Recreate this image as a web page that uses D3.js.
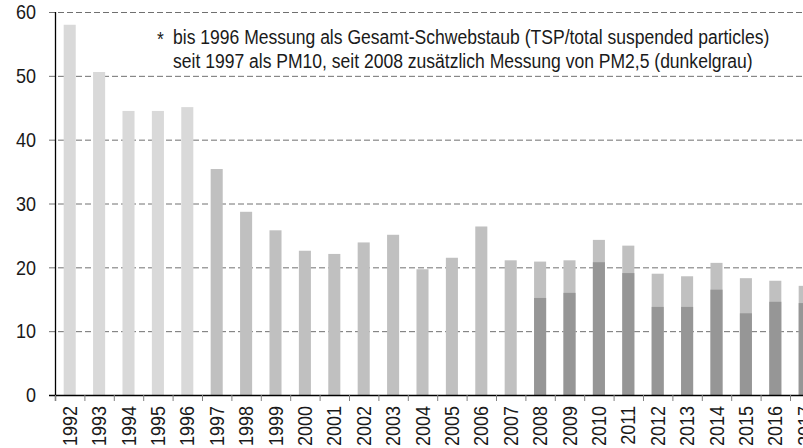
<!DOCTYPE html>
<html>
<head>
<meta charset="utf-8">
<script src="https://cdn.jsdelivr.net/npm/d3@7"></script>
<style>
  body { margin: 0; background: #fff; }
  text { font-family: "Liberation Sans", Arial, sans-serif; fill: #1a1a1a; }
</style>
</head>
<body>
<div id="chart"></div>
<script>
// data
let years = d3.range(1992, 2018).map(String);
let total = [58.0, 50.6, 44.5, 44.5, 45.1, 35.4, 28.7, 25.8, 22.6, 22.1, 23.9, 25.1, 19.7,
             21.5, 26.4, 21.1, 20.9, 21.1, 24.3, 23.4, 19.0, 18.6, 20.7, 18.3, 17.9, 17.1];
let pm25Years = d3.range(2008, 2018).map(String);
let pm25 = [15.2, 16.0, 20.8, 19.1, 13.8, 13.8, 16.5, 12.8, 14.6, 14.4];
let yTicks = [0, 10, 20, 30, 40, 50, 60];
let noteLines = [
  "bis 1996 Messung als Gesamt-Schwebstaub (TSP/total suspended particles)",
  "seit 1997 als PM10, seit 2008 zusätzlich Messung von PM2,5 (dunkelgrau)"
];

let width = 803, height = 448;
let plotLeft = 55, plotBottom = 395, plotTop = 12;
let step = 29.4;
let fontSize = 20;
let squeeze = 0.9; // the original font is a bit condensed
let noteSqueeze = 0.877;

let svg = d3.select("#chart").append("svg")
  .attr("width", width)
  .attr("height", height);

let x = d3.scaleBand()
  .domain(years)
  .range([plotLeft, plotLeft + step * years.length])
  .paddingInner(0.59)
  .paddingOuter(0.295);

let y = d3.scaleLinear()
  .domain([0, 60])
  .range([plotBottom, plotTop]);

// dashed grid
svg.append("g").selectAll("line")
  .data(yTicks.filter(d => d > 0))
  .enter().append("line")
  .attr("x1", plotLeft - 6)
  .attr("x2", width)
  .attr("y1", d => y(d) + 0.5)
  .attr("y2", d => y(d) + 0.5)
  .attr("stroke", "#707070")
  .attr("stroke-dasharray", "6,3");

// bars
svg.append("g").selectAll("rect")
  .data(years)
  .enter().append("rect")
  .attr("x", d => x(d))
  .attr("width", x.bandwidth())
  .attr("y", (d, i) => y(total[i]))
  .attr("height", (d, i) => plotBottom - y(total[i]))
  .attr("fill", d => +d <= 1996 ? "#d9d9d9" : "#c0c0c0");

svg.append("g").selectAll("rect")
  .data(pm25Years)
  .enter().append("rect")
  .attr("x", d => x(d))
  .attr("width", x.bandwidth())
  .attr("y", (d, i) => y(pm25[i]))
  .attr("height", (d, i) => plotBottom - y(pm25[i]))
  .attr("fill", "#969696");

// y axis
svg.append("line")
  .attr("x1", plotLeft + 0.5).attr("x2", plotLeft + 0.5)
  .attr("y1", y(60)).attr("y2", plotBottom + 6)
  .attr("stroke", "#000").attr("stroke-width", 1.3);

svg.append("g").selectAll("text")
  .data(yTicks)
  .enter().append("text")
  .attr("transform", d => `translate(36,${y(d)})scale(${squeeze},1)`)
  .attr("text-anchor", "end")
  .attr("dy", "0.36em")
  .style("font-size", fontSize + "px")
  .text(d => d);

// x axis line and ticks at band edges
let xAxis = svg.append("g");
xAxis.append("line")
  .attr("x1", plotLeft - 6).attr("x2", width)
  .attr("y1", plotBottom + 0.5).attr("y2", plotBottom + 0.5)
  .attr("stroke", "#000").attr("stroke-width", 1.3);
xAxis.selectAll(".tick")
  .data(d3.range(years.length + 1))
  .enter().append("line")
  .attr("x1", i => plotLeft + i * step + 0.5)
  .attr("x2", i => plotLeft + i * step + 0.5)
  .attr("y1", plotBottom)
  .attr("y2", plotBottom + 6)
  .attr("stroke", "#808080");

xAxis.selectAll("text")
  .data(years)
  .enter().append("text")
  .attr("transform", d => `translate(${x(d) + x.bandwidth() / 2 + 7},${plotBottom + 11})rotate(-90)scale(${squeeze},1)`)
  .attr("text-anchor", "end")
  .style("font-size", fontSize + "px")
  .text(d => d);

// note
let note = svg.append("g");
note.append("text")
  .attr("transform", `translate(157,46)scale(${noteSqueeze},1)`)
  .style("font-size", fontSize + "px")
  .text("*");
note.selectAll(".line")
  .data(noteLines)
  .enter().append("text")
  .attr("transform", (d, i) => `translate(173,${44 + i * 24})scale(${noteSqueeze},1)`)
  .style("font-size", fontSize + "px")
  .text(d => d);
</script>
</body>
</html>
